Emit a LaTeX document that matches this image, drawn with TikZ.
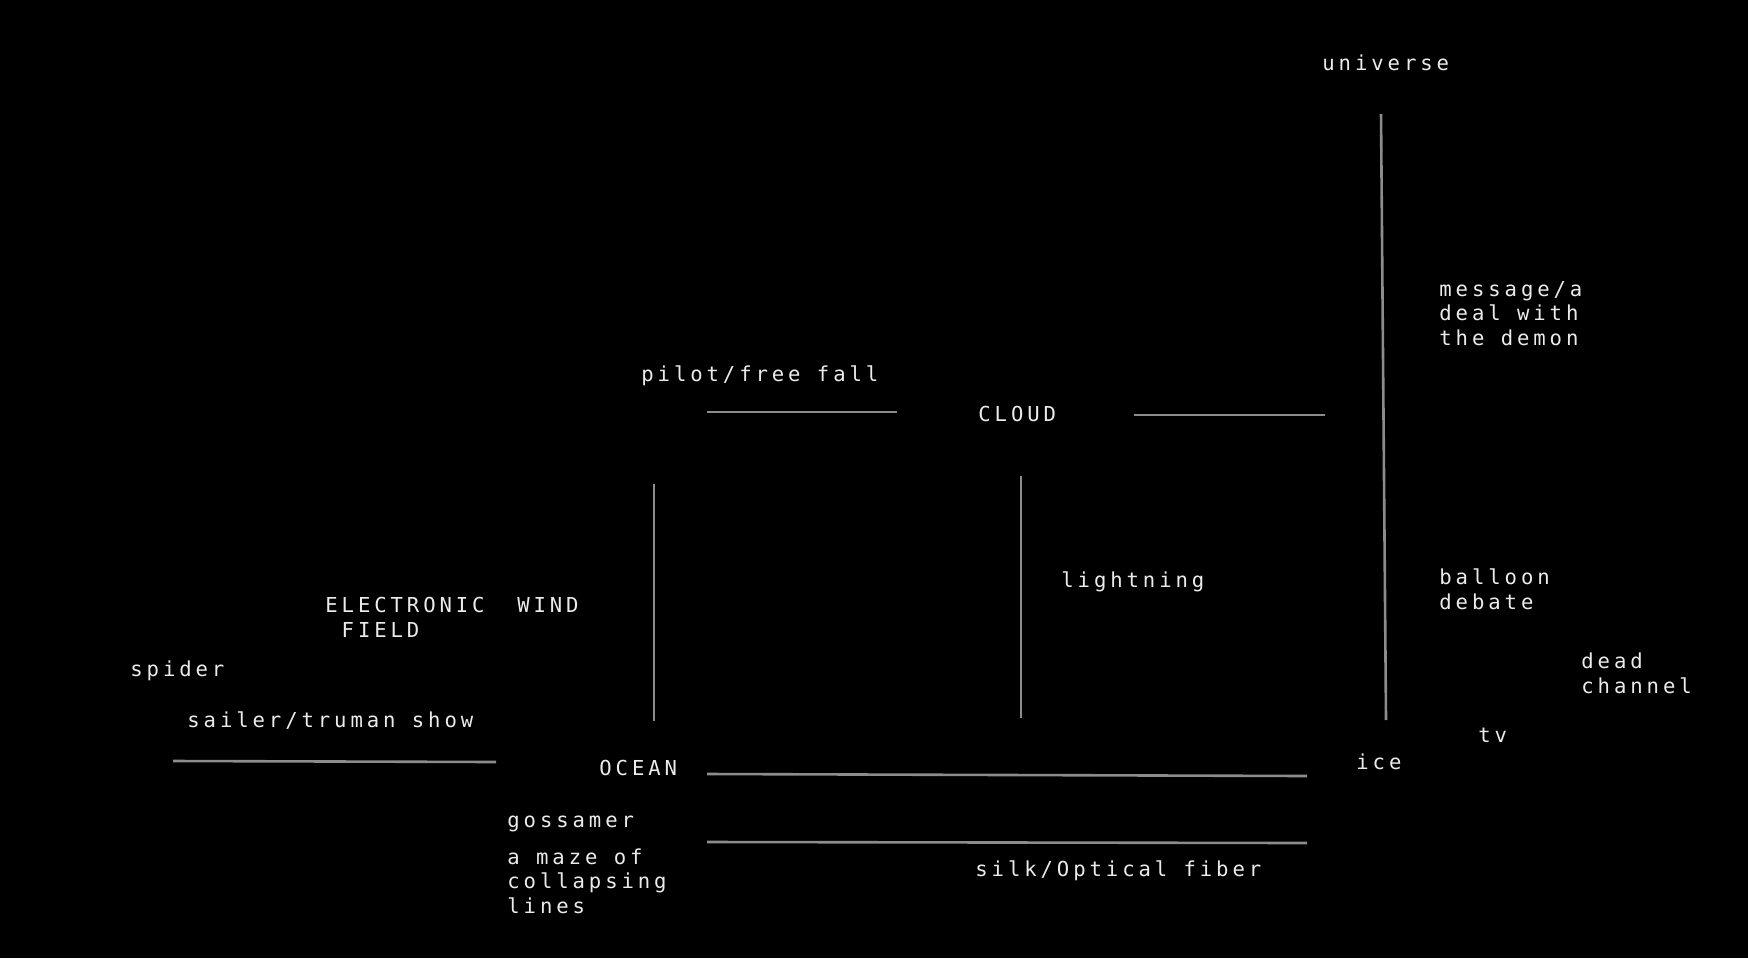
\documentclass[tikz,border=0pt]{standalone}
\usepackage{fontspec}
\usepackage{tikz}
\newfontfamily\wordfont[LetterSpace=19]{DejaVu Sans Mono}
\definecolor{linegray}{RGB}{140,140,140}
\definecolor{wordwhite}{RGB}{235,235,235}

\begin{document}
\begin{tikzpicture}[x=0.5pt, y=-0.5pt,
    word/.style={text=wordwhite, inner sep=0pt, anchor=base west, align=left, font=\wordfont\fontsize{10.3}{12.25}\selectfont},
    rule/.style={draw=linegray, line width=1.3pt},
    ]
    \fill[black] (0,0) rectangle (1748,958);
    \useasboundingbox (0,0) rectangle (1748,958);

    \node[word] (universe) at (1322,70) {universe};
    \node[word] (message) at (1439,345) {message/a\\deal with\\the demon};
    \node[word] (pilot) at (641,381) {pilot/free fall};
    \node[word] (cloud) at (978,421) {CLOUD};
    \node[word] (lightning) at (1061,587) {lightning};
    \node[word] (balloon) at (1439,609) {balloon\\debate};
    \node[word] (electronic) at (325,637) {ELECTRONIC\ \ WIND\\\mbox{ FIELD}};
    \node[word] (spider) at (130,676) {spider};
    \node[word] (dead) at (1581,693) {dead\\channel};
    \node[word] (sailer) at (187,727) {sailer/truman show};
    \node[word] (tv) at (1478,742) {tv};
    \node[word] (ice) at (1356,769) {ice};
    \node[word] (ocean) at (599,775) {OCEAN};
    \node[word] (gossamer) at (507,827) {gossamer};
    \node[word] (maze) at (507,913) {a maze of\\collapsing\\lines};
    \node[word] (silk) at (975,876) {silk/Optical fiber};

    \coordinate (univtop) at (1381,114);
    \coordinate (univbot) at (1386,720);
    \coordinate (pilotl) at (707,412);
    \coordinate (pilotr) at (897,412);
    \coordinate (cloudl) at (1134,415);
    \coordinate (cloudr) at (1325,415);
    \coordinate (windtop) at (654,484);
    \coordinate (windbot) at (654,721);
    \coordinate (striketop) at (1021,476);
    \coordinate (strikebot) at (1021,718);
    \coordinate (sailerl) at (173,761);
    \coordinate (sailerr) at (496,762);
    \coordinate (oceanl) at (707,774);
    \coordinate (oceanr) at (1307,776);
    \coordinate (silkl) at (707,842);
    \coordinate (silkr) at (1307,843);

    \draw[rule] (univtop) -- (univbot);
    \draw[rule] (pilotl) -- (pilotr);
    \draw[rule] (cloudl) -- (cloudr);
    \draw[rule] (windtop) -- (windbot);
    \draw[rule] (striketop) -- (strikebot);
    \draw[rule] (sailerl) -- (sailerr);
    \draw[rule] (oceanl) -- (oceanr);
    \draw[rule] (silkl) -- (silkr);
\end{tikzpicture}
\end{document}
